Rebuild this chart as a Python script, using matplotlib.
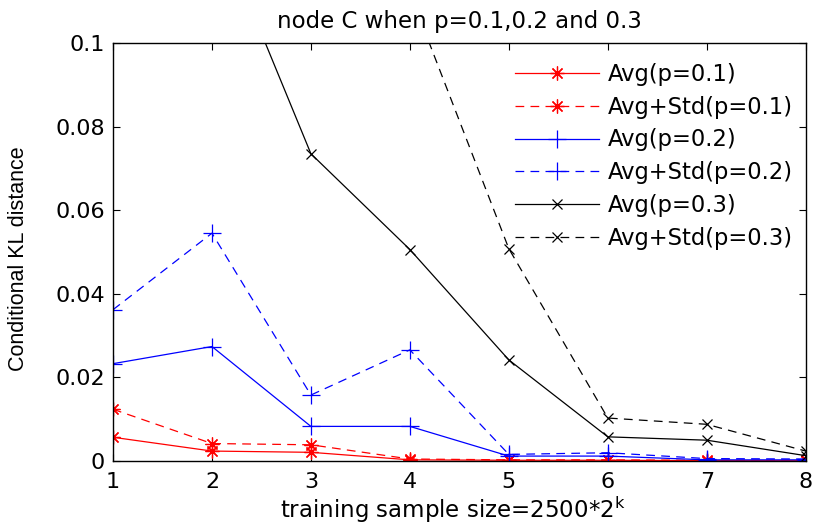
import matplotlib
matplotlib.use('Agg')
import matplotlib.pyplot as plt

plt.rcParams['font.family'] = ['DejaVu Sans']

k = [1, 2, 3, 4, 5, 6, 7, 8]

avg_p1 = [0.0057, 0.0024, 0.0021, 0.0003, 0.0002, 0.0002, 0.0001, 0.0001]
std_p1 = [0.0124, 0.0042, 0.0039, 0.0005, 0.0003, 0.0003, 0.0002, 0.0002]
avg_p2 = [0.0233, 0.0274, 0.0083, 0.0083, 0.0012, 0.0012, 0.0003, 0.0003]
std_p2 = [0.0362, 0.0545, 0.0158, 0.0266, 0.0016, 0.0020, 0.0006, 0.0005]
avg_p3 = [0.20, 0.131, 0.0735, 0.0506, 0.0242, 0.0058, 0.0050, 0.0013]
std_p3 = [0.30, 0.22, 0.16, 0.112, 0.0508, 0.0103, 0.0088, 0.0024]

labels = ['Avg(p=0.1)', 'Avg+Std(p=0.1)', 'Avg(p=0.2)',
          'Avg+Std(p=0.2)', 'Avg(p=0.3)', 'Avg+Std(p=0.3)']

yticks = [0, 0.02, 0.04, 0.06, 0.08, 0.1]
yticklabels = ['0', '0.02', '0.04', '0.06', '0.08', '0.1']

fig = plt.figure(figsize=(8.14, 5.30), dpi=100)
ax = fig.add_axes([0.1388, 0.130, 0.851, 0.789])

dash = (0, (7, 5))
star = (8, 2, 0)
ax.plot(k, avg_p1, color='red', lw=0.9, marker=star, ms=10, mew=0.9, label=labels[0])
ax.plot(k, std_p1, color='red', lw=0.9, ls=dash, marker=star, ms=10, mew=0.9, label=labels[1])
ax.plot(k, avg_p2, color='blue', lw=0.9, marker='+', ms=13, mew=0.9, label=labels[2])
ax.plot(k, std_p2, color='blue', lw=0.9, ls=dash, marker='+', ms=13, mew=0.9, label=labels[3])
ax.plot(k, avg_p3, color='black', lw=0.9, marker='x', ms=7, mew=0.9, label=labels[4])
ax.plot(k, std_p3, color='black', lw=0.9, ls=dash, marker='x', ms=7, mew=0.9, label=labels[5])

ax.set_xlim(1, 8)
ax.set_ylim(0, 0.1)
ax.set_xticks(k)
ax.set_yticks(yticks)
ax.set_yticklabels(yticklabels)
ax.tick_params(direction='in', top=True, right=True, length=5, labelsize=16)
ax.tick_params(axis='x', pad=8)
ax.tick_params(axis='y', pad=6)
for s in ax.spines.values():
    s.set_linewidth(1.0)

ax.set_title('node C when p=0.1,0.2 and 0.3', fontsize=16.5, pad=10.5)
ax.set_xlabel('training sample size=2500*2$^{\\mathrm{k}}$', fontsize=16.5)
ax.xaxis.set_label_coords(0.49, -0.08)
ax.xaxis.label.set_va('top')
ax.set_ylabel('Conditional KL distance', fontsize=15.5, family='Liberation Sans')
ax.yaxis.set_label_coords(-0.121, 0.485)

ax.legend(loc='upper left', bbox_to_anchor=(0.58, 0.952), frameon=False,
          fontsize=16.3, handlelength=3.7, handletextpad=0.4, labelspacing=0.43,
          borderaxespad=0, borderpad=0)

fig.savefig('out.png', dpi=100)
